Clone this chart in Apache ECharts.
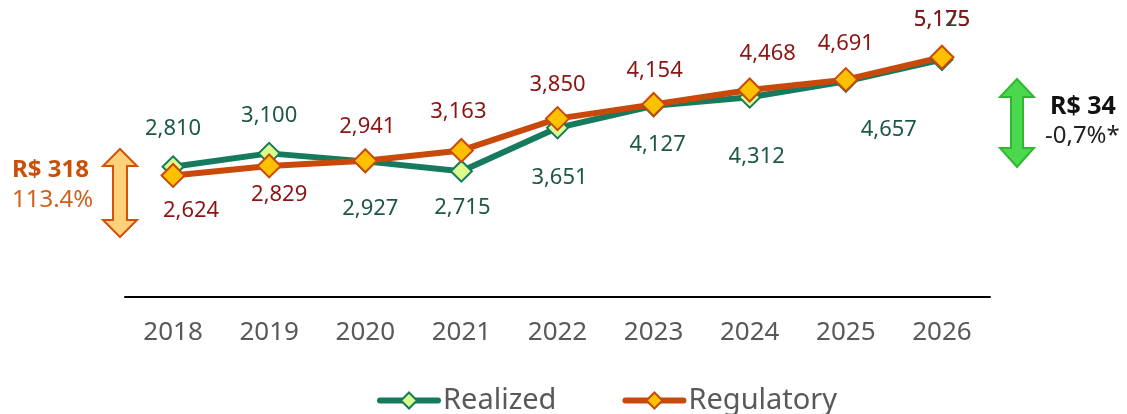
<!DOCTYPE html>
<html>
<head>
<meta charset="utf-8">
<style>
  html, body { margin: 0; padding: 0; background: #fff; }
  #chart { width: 1127px; height: 414px; }
</style>
<script src="https://cdn.jsdelivr.net/npm/echarts@6/dist/echarts.min.js"></script>
</head>
<body>
<div id="chart"></div>
<script>
// data
const years = ['2018', '2019', '2020', '2021', '2022', '2023', '2024', '2025', '2026']
const realized = [2810, 3100, 2927, 2715, 3651, 4127, 4312, 4657, 5125]
const regulatory = [2624, 2829, 2941, 3163, 3850, 4154, 4468, 4691, 5175]

// label placement (px offsets from the marker centre)
const realizedLabelOffset = [[0, -38], [0, -38], [5, 47], [1, 37], [2, 50], [4, 39], [7, 60], [43, 49], [0, -40]]
const regulatoryLabelOffset = [[18, 35], [10, 29], [2, -34], [-3, -39], [0, -34], [1, -34], [18, -36], [0, -36], [0, -37]]

const font = '"Noto Sans", "DejaVu Sans", sans-serif'

const chart = echarts.init(document.getElementById('chart'))

// 构建数据点，带各自标签偏移
const buildData = (values, offsets) => values.map((v, i) => ({
  value: v,
  label: {offset: offsets[i]}
}))

const option = {
  animation: false,
  grid: {left: 125, right: 137, top: 19, bottom: 117},
  legend: {
    left: 372,
    top: 381,
    itemWidth: 58,
    itemHeight: 20,
    itemGap: 66,
    lineStyle: {width: 6, cap: 'round'},
    textStyle: {fontSize: 29, color: '#595959', fontFamily: font},
    data: ['Realized', 'Regulatory']
  },
  xAxis: {
    type: 'category',
    data: years,
    boundaryGap: true,
    axisTick: {show: false},
    axisLine: {lineStyle: {color: '#000', width: 2}},
    axisLabel: {fontSize: 26, color: '#595959', fontFamily: font, margin: 23}
  },
  yAxis: {
    type: 'value',
    min: 0,
    max: 6000,
    show: false,
    splitLine: {show: false}
  },
  series: [
    {
      name: 'Realized',
      type: 'line',
      data: buildData(realized, realizedLabelOffset),
      symbol: 'diamond',
      symbolSize: 21,
      lineStyle: {color: '#167a5f', width: 6},
      itemStyle: {color: '#dbfb8c', borderColor: '#167a5f', borderWidth: 2},
      label: {
        show: true,
        position: 'inside',
        formatter: p => p.value.toLocaleString('en-US'),
        fontSize: 22,
        color: '#1c5748',
        fontFamily: font
      }
    },
    {
      name: 'Regulatory',
      type: 'line',
      data: buildData(regulatory, regulatoryLabelOffset),
      symbol: 'diamond',
      symbolSize: 23,
      lineStyle: {color: '#c8490a', width: 6},
      itemStyle: {color: '#ffc000', borderColor: '#c8490a', borderWidth: 2},
      label: {
        show: true,
        position: 'inside',
        formatter: p => p.value.toLocaleString('en-US'),
        fontSize: 22,
        color: '#8b1414',
        fontFamily: font
      }
    }
  ],
  graphic: [
    // 左侧双向箭头
    {
      type: 'polygon',
      shape: {points: [[120, 149], [137, 166], [127, 166], [127, 220], [137, 220], [120, 237], [103, 220], [113, 220], [113, 166], [103, 166]]},
      style: {fill: '#ffd27a', stroke: '#d5500a', lineWidth: 2}
    },
    {
      type: 'text', left: 12, top: 158,
      style: {text: 'R$ 318', fontSize: 24, fontWeight: 'bold', fill: '#c8500a', fontFamily: font}
    },
    {
      type: 'text', left: 12, top: 188,
      style: {text: '113.4%', fontSize: 24, fill: '#d0601a', fontFamily: font}
    },
    // 右侧双向箭头
    {
      type: 'polygon',
      shape: {points: [[1017, 79], [1034, 97], [1023, 97], [1023, 148], [1034, 148], [1017, 167], [1000, 148], [1011, 148], [1011, 97], [1000, 97]]},
      style: {fill: '#4cd84c', stroke: '#2fb82f', lineWidth: 2}
    },
    {
      type: 'text', left: 1050, top: 94,
      style: {text: 'R$ 34', fontSize: 25, fontWeight: 'bold', fill: '#111', fontFamily: font}
    },
    {
      type: 'text', left: 1045, top: 124,
      style: {text: '-0,7%*', fontSize: 24, fill: '#222', fontFamily: font}
    }
  ]
}

chart.setOption(option)
window.addEventListener('resize', () => chart.resize())
</script>
</body>
</html>
